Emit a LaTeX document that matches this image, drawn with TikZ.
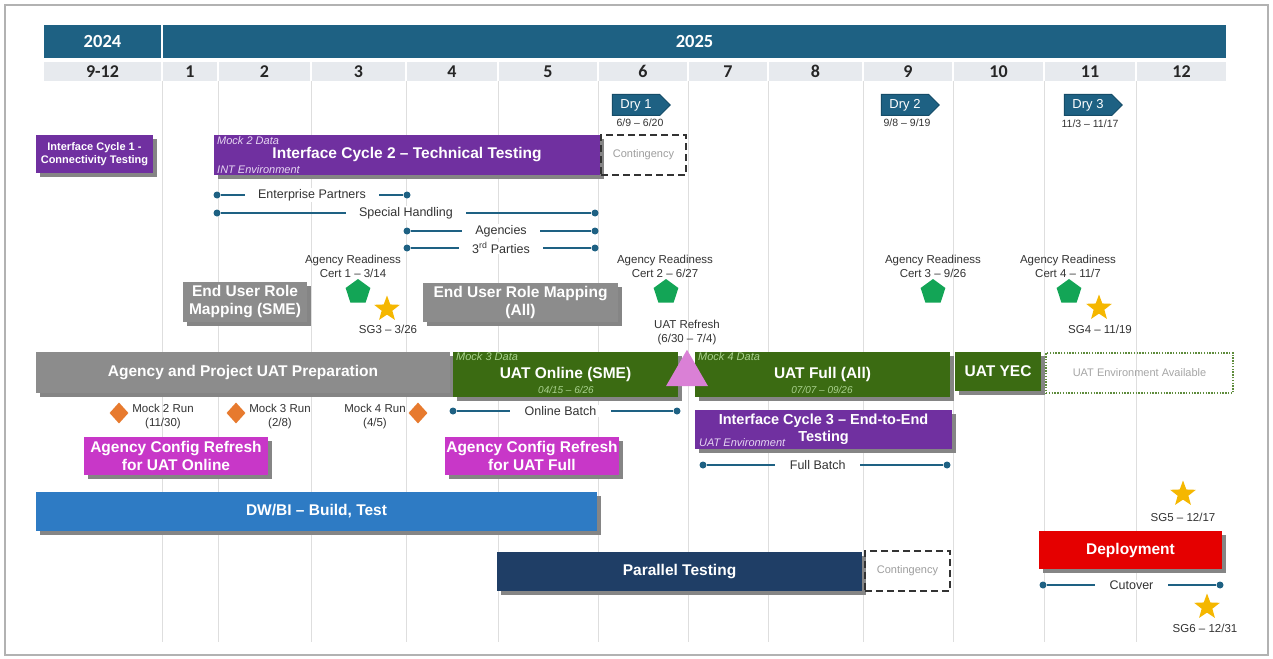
\documentclass[tikz,border=0pt]{standalone}
\usepackage{fontspec}
\setmainfont{Liberation Sans}
\newfontfamily\hdrfont{Carlito}
\usetikzlibrary{shapes.geometric,shapes.symbols,shadows,calc}
\definecolor{hdr}{HTML}{1E6183}
\definecolor{hdrdark}{HTML}{154C68}
\definecolor{mgray}{HTML}{E7EAEE}
\definecolor{ipurple}{HTML}{7030A0}
\definecolor{grayb}{HTML}{8C8C8C}
\definecolor{uatg}{HTML}{3B6B12}
\definecolor{lightg}{HTML}{A9D18E}
\definecolor{magb}{HTML}{C837C8}
\definecolor{dwblue}{HTML}{2E7BC4}
\definecolor{navy}{HTML}{1F3E66}
\definecolor{depred}{HTML}{E50000}
\definecolor{pentg}{HTML}{13A556}
\definecolor{gold}{HTML}{F5B700}
\definecolor{orng}{HTML}{E77A2E}
\definecolor{pinkt}{HTML}{DA80D6}
\definecolor{lc}{HTML}{1E6183}
\definecolor{labc}{HTML}{333333}
\definecolor{envg}{HTML}{5E8C3C}
\definecolor{lav}{HTML}{E6D6F2}
\newcommand{\gbar}[7]{\node[#6, minimum width={#4-#2}, minimum height={#5-#3}] (#1) at ({(#2+#4)/2},{(#3+#5)/2}) {#7};}
\tikzset{
  hcell/.style={rectangle, inner sep=0pt, fill=hdr, text=white, font=\hdrfont\fontsize{18.5}{20}\selectfont\bfseries},
  mcell/.style={rectangle, inner sep=0pt, fill=mgray, text=black!85, font=\hdrfont\fontsize{18}{19}\selectfont\bfseries},
  gridl/.style={draw=black!13, line width=0.9pt},
  box/.style={rectangle, inner sep=0pt, align=center, text=white,
    font=\fontsize{15.5}{18}\selectfont\bfseries,
    drop shadow={shadow xshift=4pt, shadow yshift=-4pt, fill=black!48, opacity=1}},
  pbox/.style={box, fill=ipurple},
  gbox/.style={box, fill=grayb},
  uatbox/.style={box, fill=uatg},
  mbox/.style={box, fill=magb},
  cont/.style={rectangle, inner sep=0pt, draw=black!80, dash pattern=on 7pt off 4pt, line width=1.8pt, text=black!38, font=\fontsize{11}{12}\selectfont},
  envbox/.style={rectangle, inner sep=0pt, draw=envg, dash pattern=on 1.4pt off 1.4pt, line width=1.5pt, text=black!35, font=\fontsize{11}{12}\selectfont},
  boxital/.style={inner sep=0pt, text=lav, font=\fontsize{11}{12}\selectfont\itshape},
  gital/.style={inner sep=0pt, text=lightg, font=\fontsize{11}{12}\selectfont\itshape},
  gdate/.style={inner sep=0pt, text=lightg, font=\fontsize{10}{11}\selectfont\itshape},
  lab/.style={inner sep=0pt, align=center, text=labc, font=\fontsize{11.5}{14}\selectfont},
  datelab/.style={inner sep=0pt, text=labc, font=\fontsize{10.5}{11}\selectfont},
  linelab/.style={fill=white, inner xsep=13pt, inner ysep=1pt, text=labc, font=\fontsize{12.5}{14}\selectfont},
  dot/.style={circle, fill=lc, inner sep=0pt, minimum size=7pt},
  conn/.style={draw=lc, line width=1.6pt},
  dry/.style={signal, signal to=east, fill=hdr, draw=hdrdark, line width=1pt, text=white, inner sep=0pt, minimum width=58pt, minimum height=21pt, font=\fontsize{13}{14}\selectfont},
  pent/.style={regular polygon, regular polygon sides=5, fill=pentg, inner sep=0pt, minimum size=26pt},
  star5/.style={star, star points=5, star point ratio=2.4, fill=gold, inner sep=0pt, minimum size=27pt},
  dmd/.style={diamond, fill=orng, inner sep=0pt, minimum width=19pt, minimum height=21pt},
  tri/.style={regular polygon, regular polygon sides=3, fill=pinkt, inner sep=0pt, minimum size=48.5pt}
}
\begin{document}
\begin{tikzpicture}[x=1pt,y=-1pt]
\useasboundingbox (0,0) rectangle (1273,658);
\fill[white] (0,0) rectangle (1273,658);
\draw[black!30, line width=1.2pt] (5,5) rectangle (1268,655);
% grid
\foreach \x in {162,218,311,406,498,598,688,768,863,953,1044,1136}
  \draw[gridl] (\x,81) -- (\x,642);
% header
\gbar{y24}{44}{25}{161}{58}{hcell}{2024}
\gbar{y25}{163}{25}{1226}{58}{hcell}{2025}
\foreach \a/\b/\t [count=\i] in {44/161/9-12,163/217/1,219/310/2,312/405/3,407/497/4,499/597/5,599/687/6,689/767/7,769/862/8,864/952/9,954/1043/10,1045/1135/11,1137/1226/12}
  {\gbar{m\i}{\a}{62}{\b}{81}{mcell}{\t}}
% dry runs
\node[dry] (dry1) at (636,105) {Dry 1};
\node[datelab] (dry1d) at (640,123) {6/9 – 6/20};
\node[dry] (dry2) at (905,105) {Dry 2};
\node[datelab] (dry2d) at (907,123) {9/8 – 9/19};
\node[dry] (dry3) at (1088,105) {Dry 3};
\node[datelab] (dry3d) at (1090,124) {11/3 – 11/17};
% interface cycles
\gbar{ic1}{36}{135}{153}{173}{pbox, font=\fontsize{11}{13.5}\selectfont\bfseries}{Interface Cycle 1 -\\Connectivity Testing}
\gbar{ic2}{214}{135}{600}{175}{pbox}{Interface Cycle 2 – Technical Testing}
\node[boxital, anchor=west] (ic2a) at (217,141) {Mock 2 Data};
\node[boxital, anchor=west] (ic2b) at (217,170) {INT Environment};
\gbar{cont1}{601}{135}{686}{175}{cont}{Contingency}
% partner lines
\node[dot] (ep1) at (217,195) {}; \node[dot] (ep2) at (407,195) {};
\draw[conn] (ep1) -- (ep2);
\node[linelab] (epl) at ($(ep1)!0.5!(ep2)$) {Enterprise Partners};
\node[dot] (sh1) at (217,213) {}; \node[dot] (sh2) at (595,213) {};
\draw[conn] (sh1) -- (sh2);
\node[linelab] (shl) at ($(sh1)!0.5!(sh2)$) {Special Handling};
\node[dot] (ag1) at (407,231) {}; \node[dot] (ag2) at (595,231) {};
\draw[conn] (ag1) -- (ag2);
\node[linelab] (agl) at ($(ag1)!0.5!(ag2)$) {Agencies};
\node[dot] (tp1) at (407,248) {}; \node[dot] (tp2) at (595,248) {};
\draw[conn] (tp1) -- (tp2);
\node[linelab] (tpl) at ($(tp1)!0.5!(tp2)$) {3\textsuperscript{rd} Parties};
% readiness
\node[lab] (ar1) at (353,266) {Agency Readiness\\Cert 1 – 3/14};
\node[pent] (p1) at (358,292) {};
\node[star5] (s3) at (387,309) {};
\node[lab] (s3l) at (388,329) {SG3 – 3/26};
\node[lab] (ar2) at (665,266) {Agency Readiness\\Cert 2 – 6/27};
\node[pent] (p2) at (666,292) {};
\node[lab] (ar3) at (933,266) {Agency Readiness\\Cert 3 – 9/26};
\node[pent] (p3) at (933,292) {};
\node[lab] (ar4) at (1068,266) {Agency Readiness\\Cert 4 – 11/7};
\node[pent] (p4) at (1069,292) {};
\node[star5] (s4) at (1099,308) {};
\node[lab] (s4l) at (1100,329) {SG4 – 11/19};
% end user role mapping
\gbar{eus}{183}{282}{307}{322}{gbox}{End User Role\\Mapping (SME)}
\gbar{eua}{423}{283}{618}{322}{gbox}{End User Role Mapping\\(All)}
\node[lab] (urf) at (687,333) {UAT Refresh\\(6/30 – 7/4)};
% UAT row
\gbar{prep}{36}{352}{450}{393}{gbox}{Agency and Project UAT Preparation}
\gbar{uon}{453}{352}{678}{397}{uatbox}{UAT Online (SME)}
\node[gital, anchor=west] (uona) at (456,357) {Mock 3 Data};
\node[gdate] (uond) at (566,390) {04/15 – 6/26};
\gbar{ufl}{695}{352}{950}{397}{uatbox}{UAT Full (All)}
\node[gital, anchor=west] (ufla) at (698,357) {Mock 4 Data};
\node[gdate] (ufld) at (822,390) {07/07 – 09/26};
\gbar{yec}{955}{352}{1041}{391}{uatbox}{UAT YEC}
\gbar{env}{1046}{353}{1233}{393}{envbox}{UAT Environment Available}
\node[tri] (tri) at (687,374) {};
% mock runs
\node[dmd] (d2) at (119,413) {};
\node[lab] (d2l) at (163,417) {Mock 2 Run\\(11/30)};
\node[dmd] (d3) at (236,413) {};
\node[lab] (d3l) at (280,417) {Mock 3 Run\\(2/8)};
\node[lab] (d4l) at (375,417) {Mock 4 Run\\(4/5)};
\node[dmd] (d4) at (418,413) {};
% online batch
\node[dot] (ob1) at (453,411) {}; \node[dot] (ob2) at (677,411) {};
\draw[conn] (ob1) -- (ob2);
\node[linelab, inner xsep=15pt] (obl) at ($(ob1)!0.48!(ob2)$) {Online Batch};
% interface cycle 3
\gbar{ic3}{695}{410}{952}{449}{pbox, font=\fontsize{14.5}{16.5}\selectfont\bfseries}{Interface Cycle 3 – End-to-End\\Testing}
\node[boxital, anchor=west] (ic3a) at (699,443) {UAT Environment};
\node[dot] (fb1) at (703,465) {}; \node[dot] (fb2) at (947,465) {};
\draw[conn] (fb1) -- (fb2);
\node[linelab, inner xsep=15pt] (fbl) at ($(fb1)!0.47!(fb2)$) {Full Batch};
% config refresh
\gbar{acr1}{84}{437}{268}{475}{mbox}{Agency Config Refresh\\for UAT Online}
\gbar{acr2}{445}{437}{619}{475}{mbox}{Agency Config Refresh\\for UAT Full}
% bottom rows
\gbar{dw}{36}{492}{597}{531}{box, fill=dwblue}{DW/BI – Build, Test}
\gbar{par}{497}{552}{862}{591}{box, fill=navy}{Parallel Testing}
\gbar{cont2}{865}{551}{950}{591}{cont}{Contingency}
\gbar{dep}{1039}{531}{1222}{569}{box, fill=depred}{Deployment}
\node[dot] (co1) at (1043,585) {}; \node[dot] (co2) at (1220,585) {};
\draw[conn] (co1) -- (co2);
\node[linelab, inner xsep=15pt] (col) at ($(co1)!0.5!(co2)$) {Cutover};
\node[star5] (s5) at (1183,494) {};
\node[lab] (s5l) at (1183,517) {SG5 – 12/17};
\node[star5] (s6) at (1207,607) {};
\node[lab] (s6l) at (1205,628) {SG6 – 12/31};
\end{tikzpicture}
\end{document}
